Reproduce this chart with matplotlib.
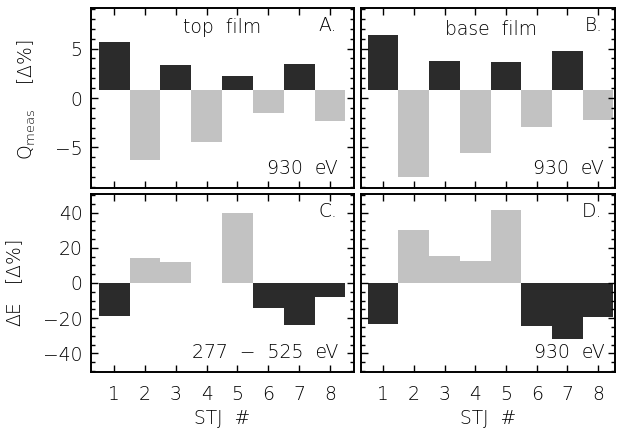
import numpy as np
import matplotlib
matplotlib.use("Agg")
import matplotlib.pyplot as plt
from matplotlib.ticker import MultipleLocator

plt.rcParams['font.family'] = ['DejaVu Sans']
plt.rcParams['font.weight'] = 'light'
plt.rcParams['axes.labelweight'] = 'light'
plt.rcParams['mathtext.fontset'] = 'custom'
plt.rcParams['mathtext.rm'] = 'DejaVu Sans:light'
plt.rcParams['mathtext.default'] = 'regular'

# STJ numbers
stj = [1, 2, 3, 4, 5, 6, 7, 8]

# Q_meas [delta %], bars start from a small offset baseline
q_base = 0.8
q_top = [5.7, -6.3, 3.3, -4.4, 2.2, -1.5, 3.4, -2.3]
q_base_film = [6.4, -8.0, 3.7, -5.6, 3.6, -2.9, 4.8, -2.2]

# Delta E [delta %]
de_top = [-18.8, 14.3, 12.0, 0.0, 39.7, -14.2, -23.6, -7.9]
de_base_film = [-23.3, 30.2, 15.5, 12.3, 41.6, -24.6, -31.6, -19.5]

dark = '#2b2b2b'
light = '#c2c2c2'
W, H = 617, 429

fig = plt.figure(figsize=(W / 100, H / 100), dpi=100)

def box(l, r, t, b):
    return [l / W, (H - b) / H, (r - l) / W, (b - t) / H]

axA = fig.add_axes(box(91, 354, 8, 188))
axB = fig.add_axes(box(361, 615, 8, 188))
axC = fig.add_axes(box(91, 354, 194, 372))
axD = fig.add_axes(box(361, 615, 194, 372))

def draw_q(ax, vals):
    vals = np.array(vals)
    cols = [dark if v > 0 else light for v in vals]
    ax.bar(stj, vals - q_base, bottom=q_base, width=1.0, color=cols, linewidth=0)
    ax.set_ylim(-9.1, 9.1)
    ax.yaxis.set_major_locator(MultipleLocator(5))
    ax.yaxis.set_minor_locator(MultipleLocator(1))

def draw_de(ax, vals):
    vals = np.array(vals)
    cols = [light if v > 0 else dark for v in vals]
    ax.bar(stj, vals, width=1.0, color=cols, linewidth=0)
    ax.set_ylim(-50.5, 50.5)
    ax.yaxis.set_major_locator(MultipleLocator(20))
    ax.yaxis.set_minor_locator(MultipleLocator(5))

draw_q(axA, q_top)
draw_q(axB, q_base_film)
draw_de(axC, de_top)
draw_de(axD, de_base_film)

for ax in [axA, axC]:
    ax.set_xlim(0.25, 8.78)
for ax in [axB, axD]:
    ax.set_xlim(0.28, 8.55)

fs = 13.5
for ax in [axA, axB, axC, axD]:
    ax.set_xticks(stj)
    ax.tick_params(which='both', direction='in', top=True, right=True,
                   labelsize=fs, width=1.0)
    ax.tick_params(which='major', length=5)
    ax.tick_params(which='minor', length=3)
    ax.tick_params(axis='y', pad=6)
    ax.tick_params(axis='x', pad=9)
    for s in ax.spines.values():
        s.set_linewidth(1.4)

axA.tick_params(labelbottom=False)
axB.tick_params(labelbottom=False, labelleft=False)
axD.tick_params(labelleft=False)

axA.set_yticks([-5, 0, 5])
axA.set_yticklabels(['\u22125', '0', '5'])
axC.set_yticks([-40, -20, 0, 20, 40])
axC.set_yticklabels(['\u221240', '\u221220', '0', '20', '40'])

for ax in [axC, axD]:
    ax.set_xlabel('STJ  #', fontsize=fs, labelpad=4, fontweight='light')

axA.text(0.50, 0.89, 'top  film', transform=axA.transAxes, ha='center', va='center', fontsize=fs)
axA.text(0.935, 0.905, 'A.', transform=axA.transAxes, ha='right', va='center', fontsize=fs)
axA.text(0.94, 0.11, '930  eV', transform=axA.transAxes, ha='right', va='center', fontsize=fs)

axB.text(0.51, 0.88, 'base  film', transform=axB.transAxes, ha='center', va='center', fontsize=fs)
axB.text(0.95, 0.905, 'B.', transform=axB.transAxes, ha='right', va='center', fontsize=fs)
axB.text(0.955, 0.11, '930  eV', transform=axB.transAxes, ha='right', va='center', fontsize=fs)

axC.text(0.935, 0.90, 'C.', transform=axC.transAxes, ha='right', va='center', fontsize=fs)
axC.text(0.94, 0.107, '277  \u2212  525  eV', transform=axC.transAxes, ha='right', va='center', fontsize=fs)

axD.text(0.95, 0.90, 'D.', transform=axD.transAxes, ha='right', va='center', fontsize=fs)
axD.text(0.96, 0.11, '930  eV', transform=axD.transAxes, ha='right', va='center', fontsize=fs)

fig.text(27 / W, 1 - 100 / H, r'Q$_{meas}$    [$\Delta$%]', rotation=90,
         ha='center', va='center', fontsize=fs)
fig.text(15 / W, 1 - 283 / H, r'$\Delta$E   [$\Delta$%]', rotation=90,
         ha='center', va='center', fontsize=fs)

fig.savefig('out.png', dpi=100)
